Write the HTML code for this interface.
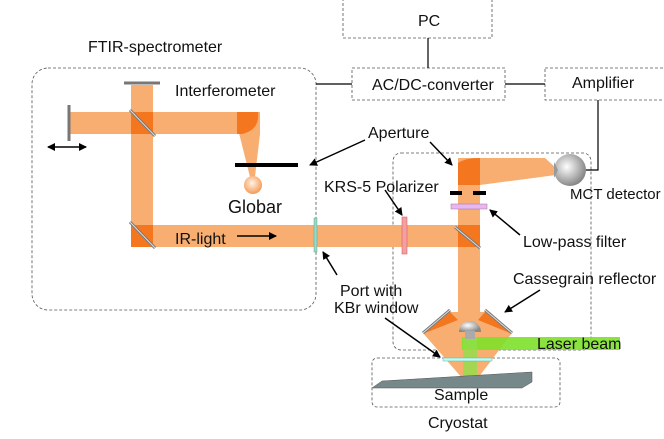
<!DOCTYPE html><html><head><style>body{margin:0;background:#fff}svg{display:block}text{font-family:"Liberation Sans",sans-serif;fill:#111}</style></head><body>
<svg width="664" height="439" viewBox="0 0 664 439">
<defs><marker id="a" markerWidth="8" markerHeight="8" refX="7" refY="4" orient="auto" markerUnits="userSpaceOnUse"><path d="M0,0L8,4L0,8z" fill="#000"/></marker>
<radialGradient id="g" cx="0.4" cy="0.4" r="0.6"><stop offset="0" stop-color="#fff"/><stop offset="1" stop-color="#888"/></radialGradient>
<radialGradient id="o" cx="0.45" cy="0.4" r="0.6"><stop offset="0" stop-color="#fff3e6"/><stop offset="1" stop-color="#f59a55"/></radialGradient></defs>
<g fill="none" stroke="#555" stroke-dasharray="3,2" stroke-width="0.8">
<rect x="343" y="-2" width="149" height="40"/>
<rect x="352" y="68" width="153" height="32"/>
<rect x="545" y="68" width="120" height="32"/>
<rect x="32" y="68" width="284" height="242" rx="16"/>
<rect x="393" y="153" width="198" height="197" rx="8"/>
<rect x="372" y="358" width="188" height="49" rx="5"/>
</g>
<g stroke="#000" stroke-width="1.2" fill="none">
<path d="M428 38V68M316 84H352M505 84H545M598 100V170H586"/>
</g>
<g fill="#f8ae70">
<rect x="70" y="112" width="190" height="22"/>
<rect x="131" y="85" width="22" height="162"/>
<rect x="131" y="225" width="327" height="22"/>
<rect x="458" y="158" width="22" height="175"/>
<path d="M458 158H545L556 168L556 175L480 185H458z"/>
<path d="M237 125L260 134L254 185L252 185z"/>
<path d="M423 333L450 312H490L512 333L478 378H462z"/>
</g>
<g fill="#f4771f">
<rect x="131" y="112" width="22" height="22"/><rect x="131" y="225" width="22" height="22"/>
<rect x="458" y="225" width="22" height="22"/>
<path d="M237 112H258Q260 130 242 134H237z"/>
<path d="M458 185V163Q465 158 480 158V185z"/>
<path d="M425 333L450 312L458 320z"/><path d="M510 333L485 312L478 320z"/>
</g>
<rect x="462" y="337" width="158" height="13" fill="#7ee02a" opacity="0.9"/>
<rect x="463" y="337" width="14" height="45" fill="#8ee04a" opacity="0.8"/>
<path d="M372 388L382 381L532 372V382L522 388z" fill="#76888a" stroke="#555" stroke-width="0.5"/>
<g stroke="#777" stroke-width="3">
<path d="M69 105V141M124 83H160M130 110L155 136M130 222L155 248M455 227L480 248M423 333L450 310M485 310L512 333"/></g>
<g stroke="#ddd" stroke-width="1"><path d="M130 110L155 136M130 222L155 248M455 227L480 248M423 333L450 310M485 310L512 333"/></g>
<circle cx="253" cy="185" r="9" fill="url(#o)"/>
<circle cx="570" cy="170" r="16" fill="url(#g)"/>
<path d="M554 162L558 170L554 178z" fill="#999"/>
<path d="M459 332a11 11 0 0 1 22 0z" fill="url(#g)"/>
<rect x="465" y="331" width="10" height="8" fill="#aaa"/>
<g stroke="#000" stroke-width="4"><path d="M235 165H298M450 193H462M473 193H486"/></g>
<rect x="451" y="204" width="36" height="5" fill="#e8b8ec" stroke="#a070a8" stroke-width="0.5"/>
<rect x="402" y="217" width="5" height="37" fill="#f5a0a0" stroke="#d05050" stroke-width="0.5"/>
<rect x="314" y="218" width="3" height="34" fill="#9ed8c0" stroke="#5a9" stroke-width="0.5"/>
<rect x="443" y="358" width="49" height="3" fill="#bfe" stroke="#7aa" stroke-width="0.5"/>
<g stroke="#000" stroke-width="1.5" fill="none" marker-end="url(#a)">
<path d="M66 147H86"/><path d="M66 147H48"/>
<path d="M237 236H276"/>
<path d="M365 140L310 165"/><path d="M430 142L452 165"/>
<path d="M385 190L402 215"/><path d="M520 235L490 210"/>
<path d="M540 290L505 312"/><path d="M337 275L323 252"/><path d="M385 318L440 357"/>
</g>
<g font-size="16">
<text x="88" y="52">FTIR-spectrometer</text>
<text x="175" y="96">Interferometer</text>
<text x="228" y="213" font-size="18">Globar</text>
<text x="175" y="244">IR-light</text>
<text x="368" y="138">Aperture</text>
<text x="324" y="192">KRS-5 Polarizer</text>
<text x="523" y="247">Low-pass filter</text>
<text x="513" y="284">Cassegrain reflector</text>
<text x="340" y="296">Port with</text>
<text x="334" y="313">KBr window</text>
<text x="570" y="199" font-size="15">MCT detector</text>
<text x="537" y="349">Laser beam</text>
<text x="434" y="400">Sample</text>
<text x="428" y="428">Cryostat</text>
<text x="418" y="26">PC</text>
<text x="372" y="90">AC/DC-converter</text>
<text x="572" y="88">Amplifier</text>
</g>
</svg></body></html>
